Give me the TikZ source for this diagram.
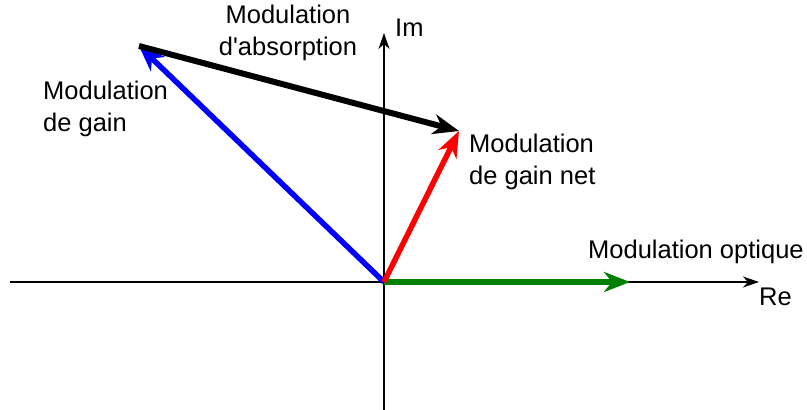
\documentclass[tikz,border=0pt]{standalone}
\usepackage{fontspec}
\newfontfamily\lsans{Liberation Sans}
\usetikzlibrary{arrows.meta}
\begin{document}
\begin{tikzpicture}[x=1pt,y=-1pt,
  axis/.style={line width=1.5pt,-{Stealth[length=16pt,width=11pt,inset=5pt]}},
  vec/.style={line width=5.5pt,-{Stealth[length=26pt,width=20pt,inset=8pt]}},
  lbl/.style={font=\lsans\fontsize{25.5}{32}\selectfont,inner sep=0pt,align=left}]
\useasboundingbox (0,0) rectangle (807,410);
\coordinate (O) at (384,282);
\coordinate (xl) at (10,282);
\coordinate (xr) at (759,282);
\coordinate (yb) at (384,410);
\coordinate (yt) at (384,33);
\coordinate (B) at (139,46);
\coordinate (R) at (459,131);
\coordinate (G) at (630,282);
\draw[axis] (xl) -- (xr);
\draw[axis] (yb) -- (yt);
\draw[vec,green!50!black] (O) -- (G);
\draw[vec,blue] (O) -- (B);
\draw[vec,red] (O) -- (R);
\draw[vec,black,line width=6pt] (B) -- (R);
\node[lbl,anchor=west] (im) at (395,28) {Im};
\node[lbl,anchor=west] (re) at (759,297) {Re};
\node[lbl,align=center] (abs) at (288,33) {Modulation\\d'absorption};
\node[lbl,anchor=west] (gain) at (43,109) {Modulation\\de gain};
\node[lbl,anchor=west] (net) at (469,162) {Modulation\\de gain net};
\node[lbl,anchor=west] (opt) at (588,252) {Modulation optique};
\end{tikzpicture}
\end{document}
